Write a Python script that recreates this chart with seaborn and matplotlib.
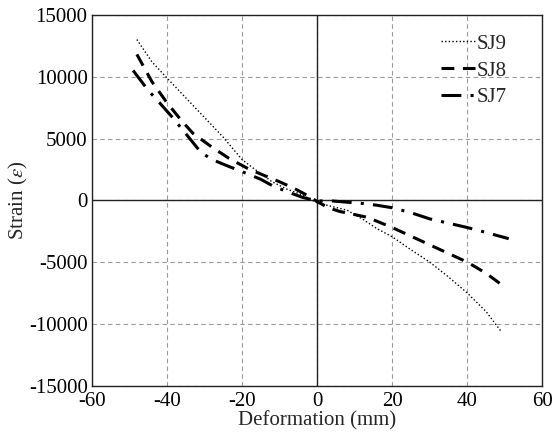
import numpy as np
import pandas as pd
import matplotlib
matplotlib.use("Agg")
import matplotlib.pyplot as plt
import seaborn as sns

# Strain vs. deformation curves for three specimens
sj9_x = [-48, -44, -40, -35, -30, -25, -20, -17, -12, -8, -4, 0, 4, 8, 12, 16, 20, 25, 30, 35, 40, 45, 49]
sj9_y = [13000, 11200, 9900, 8300, 6700, 5100, 3300, 2600, 1500, 900, 450, -200, -500, -800, -1500,
         -2300, -2950, -4000, -5000, -6200, -7500, -9000, -10600]

sj8_x = [-48, -44, -40, -36, -33, -28, -23.5, -18, -14, -10, -6, -2, 0, 3, 6, 10, 13, 16, 20, 25, 30, 35, 40, 45, 49]
sj8_y = [11800, 9600, 7900, 6400, 5400, 4300, 3400, 2500, 2000, 1500, 950, 300, -100, -600, -900, -1150,
         -1350, -1700, -2200, -2900, -3600, -4300, -5000, -5900, -6800]

sj7_x = [-49, -45, -42, -38.5, -35, -31, -28, -24, -19, -15, -12, -8, -4, 0, 4, 8, 12, 16, 20, 25, 30, 35, 40, 45, 51]
sj7_y = [10500, 8900, 7900, 6700, 5400, 3900, 3300, 2800, 2200, 1700, 1200, 700, 250, -50, -50, -150,
         -250, -400, -600, -1000, -1500, -1850, -2200, -2600, -3100]

series_names = ["SJ9", "SJ8", "SJ7"]
x_ticks = [-60, -40, -20, 0, 20, 40, 60]
y_ticks = [-15000, -10000, -5000, 0, 5000, 10000, 15000]

sns.set_theme(style="white")
plt.rcParams["font.family"] = ["Liberation Serif", "DejaVu Serif"]
plt.rcParams["mathtext.fontset"] = "stix"

FS = 15

fig = plt.figure(figsize=(5.53, 4.36), dpi=100)
ax = fig.add_axes([0.166, 0.115, 0.815, 0.851])

styles = {
    "SJ9": dict(lw=1.0, linestyle=(0, (1, 1.6))),
    "SJ8": dict(lw=2.2, linestyle=(0, (4.2, 2.8))),
    "SJ7": dict(lw=2.2, linestyle=(0, (6.5, 3, 1, 3))),
}
data = {"SJ9": (sj9_x, sj9_y), "SJ8": (sj8_x, sj8_y), "SJ7": (sj7_x, sj7_y)}

for name in series_names:
    xs, ys = data[name]
    df = pd.DataFrame({"x": xs, "y": ys})
    sns.lineplot(data=df, x="x", y="y", ax=ax, color="black", label=name,
                 sort=False, **styles[name])

ax.axhline(0, color="#222222", lw=1.0, zorder=1)
ax.axvline(0, color="#222222", lw=1.0, zorder=1)

ax.set_xlim(-60, 60)
ax.set_ylim(-15000, 15000)
ax.set_xticks(x_ticks)
ax.set_yticks(y_ticks)
ax.set_xticklabels([str(t) for t in x_ticks])
ax.set_yticklabels([str(t) for t in y_ticks])
ax.grid(True, color="#9a9a9a", linestyle=(0, (4, 3)), lw=0.8)

for s in ax.spines.values():
    s.set_color("#222222")
    s.set_linewidth(1.0)

ax.tick_params(axis="y", labelsize=FS, colors="black", length=0, pad=3)
ax.tick_params(axis="x", labelsize=FS, colors="black", length=0, pad=4.5)
ax.set_xlabel("Deformation (mm)", fontsize=FS, labelpad=0)
ax.set_ylabel(r"Strain ($\varepsilon$)", fontsize=FS, labelpad=-1)

leg = ax.legend(loc="upper right", bbox_to_anchor=(0.995, 1.038), frameon=False,
                fontsize=FS, handlelength=1.6, handletextpad=0.1, labelspacing=0.35,
                borderaxespad=1.2)

fig.savefig("out.png", dpi=100)
